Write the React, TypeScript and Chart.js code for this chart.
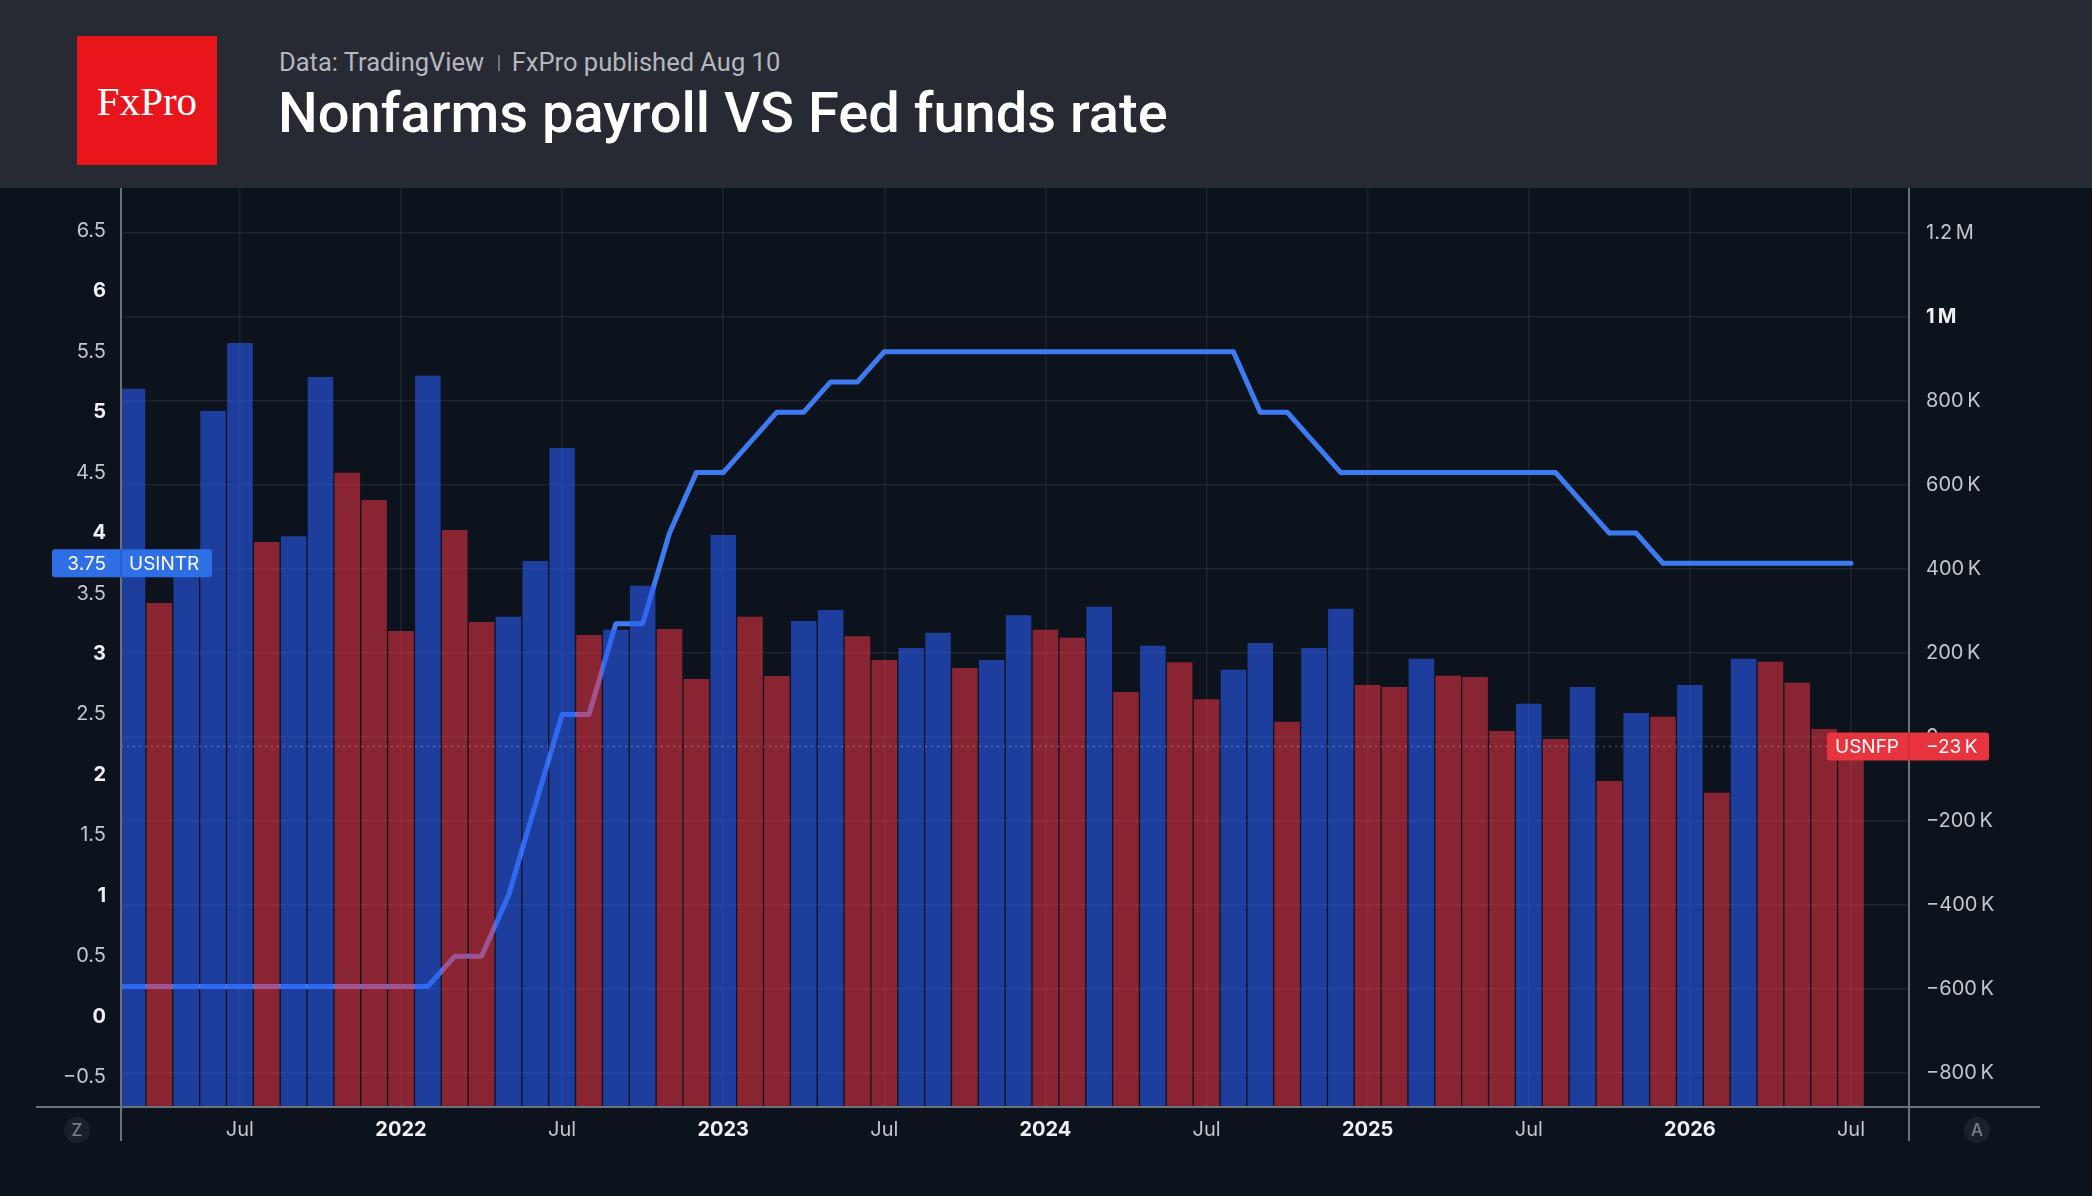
import { useEffect, useRef } from 'react';
import { Chart, registerables } from 'chart.js';

Chart.register(...registerables);

// monthly series, Feb 2021 (off the left edge) .. Jul 2026
const MONTHS = [
  '2021-02', '2021-03', '2021-04', '2021-05', '2021-06', '2021-07', '2021-08', '2021-09', '2021-10', '2021-11', '2021-12',
  '2022-01', '2022-02', '2022-03', '2022-04', '2022-05', '2022-06', '2022-07', '2022-08', '2022-09', '2022-10', '2022-11', '2022-12',
  '2023-01', '2023-02', '2023-03', '2023-04', '2023-05', '2023-06', '2023-07', '2023-08', '2023-09', '2023-10', '2023-11', '2023-12',
  '2024-01', '2024-02', '2024-03', '2024-04', '2024-05', '2024-06', '2024-07', '2024-08', '2024-09', '2024-10', '2024-11', '2024-12',
  '2025-01', '2025-02', '2025-03', '2025-04', '2025-05', '2025-06', '2025-07', '2025-08', '2025-09', '2025-10', '2025-11', '2025-12',
  '2026-01', '2026-02', '2026-03', '2026-04', '2026-05', '2026-06', '2026-07',
];

// nonfarm payrolls, thousands
const PAYROLL_K = [
  null, 829, 319, 415, 776, 938, 464, 478, 857, 629, 564,
  252, 860, 493, 274, 286, 419, 688, 243, 255, 360, 257, 138,
  481, 286, 145, 276, 302, 240, 183, 212, 248, 164, 183, 290,
  255, 236, 310, 107, 217, 178, 90, 160, 224, 36, 212, 305,
  124, 119, 186, 146, 143, 14, 79, -5, 119, -105, 57, 48,
  124, -133, 186, 179, 129, 19, -23,
];

// fed funds rate (upper bound), %
const FED_RATE = [
  0.25, 0.25, 0.25, 0.25, 0.25, 0.25, 0.25, 0.25, 0.25, 0.25, 0.25,
  0.25, 0.25, 0.5, 0.5, 1.0, 1.75, 2.5, 2.5, 3.25, 3.25, 4.0, 4.5,
  4.5, 4.75, 5.0, 5.0, 5.25, 5.25, 5.5, 5.5, 5.5, 5.5, 5.5, 5.5,
  5.5, 5.5, 5.5, 5.5, 5.5, 5.5, 5.5, 5.5, 5.0, 5.0, 4.75, 4.5,
  4.5, 4.5, 4.5, 4.5, 4.5, 4.5, 4.5, 4.5, 4.25, 4.0, 4.0, 3.75,
  3.75, 3.75, 3.75, 3.75, 3.75, 3.75, 3.75,
];

const RATE_TICKS = [6.5, 6, 5.5, 5, 4.5, 4, 3.5, 3, 2.5, 2, 1.5, 1, 0.5, 0, -0.5];
const PAYROLL_TICKS = [1200, 1000, 800, 600, 400, 200, 0, -200, -400, -600, -800];
const PAYROLL_TICK_TEXT = ['1.2\u2009M', '1\u2009M', '800\u2009K', '600\u2009K', '400\u2009K', '200\u2009K', '0', '\u2212200\u2009K', '\u2212400\u2009K', '\u2212600\u2009K', '\u2212800\u2009K'];
const X_TICKS = ['2021-07', '2022-01', '2022-07', '2023-01', '2023-07', '2024-01', '2024-07', '2025-01', '2025-07', '2026-01', '2026-07'];
const X_TICK_TEXT = ['Jul', '2022', 'Jul', '2023', 'Jul', '2024', 'Jul', '2025', 'Jul', '2026', 'Jul'];

const BG = '#0d131d';
const GRID = 'rgba(255,255,255,0.07)';
const AXIS = '#6c717a';
const DIM = '#c3c6cc';
const BRIGHT = '#eef0f3';
const BLUE_BAR = 'rgba(42,91,243,0.6)';
const RED_BAR = 'rgba(240,51,70,0.55)';
const LINE = '#3d7cf0';
const FONT = 'Inter, "DejaVu Sans", sans-serif';

const tickFont = (bold: boolean) => ({ family: FONT, size: 20, weight: bold ? '700' : '400' });
const fmtRate = (v: number) => String(v).replace('-', '\u2212');

function roundRect(ctx: CanvasRenderingContext2D, x: number, y: number, w: number, h: number, r: number) {
  ctx.beginPath();
  ctx.moveTo(x + r, y);
  ctx.arcTo(x + w, y, x + w, y + h, r);
  ctx.arcTo(x + w, y + h, x, y + h, r);
  ctx.arcTo(x, y + h, x, y, r);
  ctx.arcTo(x, y, x + w, y, r);
  ctx.closePath();
}

const overlay = {
  id: 'overlay',
  afterDatasetsDraw(chart: any) {
    const { ctx, chartArea: a, scales } = chart;
    const y = scales.y2.getPixelForValue(PAYROLL_K[PAYROLL_K.length - 1]);
    ctx.save();
    ctx.setLineDash([2, 4]);
    ctx.strokeStyle = 'rgba(175,185,205,0.35)';
    ctx.lineWidth = 1.5;
    ctx.beginPath();
    ctx.moveTo(a.left, y);
    ctx.lineTo(a.right, y);
    ctx.stroke();
    ctx.restore();
  },
  afterDraw(chart: any) {
    const { ctx, chartArea: a, scales } = chart;
    ctx.save();
    // axis lines
    ctx.strokeStyle = AXIS;
    ctx.lineWidth = 2;
    ctx.beginPath();
    ctx.moveTo(a.left, a.top);
    ctx.lineTo(a.left, a.bottom + 34);
    ctx.moveTo(a.right, a.top);
    ctx.lineTo(a.right, a.bottom + 34);
    ctx.moveTo(a.left - 85, a.bottom);
    ctx.lineTo(a.right + 131, a.bottom);
    ctx.stroke();

    ctx.font = `400 19px ${FONT}`;
    ctx.textBaseline = 'middle';

    // USINTR tag
    const lastRate = FED_RATE[FED_RATE.length - 1];
    const yr = scales.y.getPixelForValue(lastRate);
    ctx.fillStyle = '#2f6fe6';
    roundRect(ctx, a.left - 69, yr - 14, 160, 28, 3);
    ctx.fill();
    ctx.fillStyle = 'rgba(0,0,0,0.12)';
    ctx.fillRect(a.left - 1, yr - 14, 2, 28);
    ctx.fillStyle = '#ffffff';
    ctx.textAlign = 'right';
    ctx.fillText(lastRate.toFixed(2), a.left - 15, yr + 1);
    ctx.textAlign = 'left';
    ctx.fillText('USINTR', a.left + 8, yr + 1);

    // USNFP tag
    const lastPay = PAYROLL_K[PAYROLL_K.length - 1] as number;
    const yp = scales.y2.getPixelForValue(lastPay);
    ctx.fillStyle = '#e8343f';
    roundRect(ctx, a.right - 82, yp - 14, 162, 28, 3);
    ctx.fill();
    ctx.fillStyle = 'rgba(0,0,0,0.1)';
    ctx.fillRect(a.right - 1, yp - 14, 2, 28);
    ctx.fillStyle = '#ffffff';
    ctx.textAlign = 'left';
    ctx.fillText('USNFP', a.right - 74, yp + 1);
    ctx.fillText(`${lastPay < 0 ? '\u2212' : ''}${Math.abs(lastPay)}\u2009K`, a.right + 17, yp + 1);

    // corner buttons
    const cy = a.bottom + 23;
    for (const [cx, t] of [[a.left - 44, 'Z'], [a.right + 68, 'A']] as [number, string][]) {
      ctx.fillStyle = '#1b212b';
      ctx.beginPath();
      ctx.arc(cx, cy, 13, 0, Math.PI * 2);
      ctx.fill();
      ctx.fillStyle = '#7b808a';
      ctx.textAlign = 'center';
      ctx.font = `500 17px ${FONT}`;
      ctx.fillText(t, cx, cy + 1);
    }
    ctx.restore();
  },
};

export default function App() {
  const ref = useRef<HTMLCanvasElement>(null);
  const chartRef = useRef<Chart | null>(null);

  useEffect(() => {
    if (!ref.current) return;
    const payMin = -881;
    const barColors = PAYROLL_K.map((v, i) => {
      const prev = i > 0 ? PAYROLL_K[i - 1] : null;
      return prev === null || (v as number) > prev ? BLUE_BAR : RED_BAR;
    });

    chartRef.current?.destroy();
    chartRef.current = new Chart(ref.current, {
      type: 'bar',
      data: {
        datasets: [
          {
            type: 'bar',
            label: 'USNFP',
            data: MONTHS.map((_, i) => ({ x: i, y: PAYROLL_K[i] })),
            yAxisID: 'y2',
            base: payMin,
            backgroundColor: barColors,
            borderWidth: 0,
            barPercentage: 0.95,
            categoryPercentage: 1,
            order: 0,
          },
          {
            type: 'line',
            label: 'USINTR',
            data: MONTHS.map((_, i) => ({ x: i, y: FED_RATE[i] })),
            yAxisID: 'y',
            borderColor: LINE,
            borderWidth: 5,
            pointRadius: 0,
            tension: 0,
            borderCapStyle: 'round',
            borderJoinStyle: 'round',
            order: 1,
          },
        ],
      } as any,
      options: {
        responsive: false,
        animation: false,
        layout: { padding: { top: 188, left: 0, right: 0, bottom: 0 } },
        plugins: { legend: { display: false }, tooltip: { enabled: false } },
        scales: {
          x: {
            type: 'linear',
            min: 0.572,
            max: 67.16,
            offset: false,
            afterBuildTicks: (s: any) => { s.ticks = X_TICKS.map((m) => ({ value: MONTHS.indexOf(m) })); },
            afterFit: (s: any) => { s.height = 89; },
            grid: { color: GRID, lineWidth: 1.5, drawTicks: false, offset: false },
            border: { display: false },
            ticks: {
              autoSkip: false,
              maxRotation: 0,
              padding: 11,
              callback: (_v: any, i: number) => X_TICK_TEXT[i],
              color: (c: any) => (X_TICK_TEXT[c.index] === 'Jul' ? DIM : BRIGHT),
              font: (c: any) => tickFont(X_TICK_TEXT[c.index] !== 'Jul'),
            },
          },
          y: {
            position: 'left',
            min: -0.747,
            max: 6.854,
            afterBuildTicks: (s: any) => { s.ticks = RATE_TICKS.map((value) => ({ value })); },
            afterFit: (s: any) => { s.width = 121; },
            grid: { display: false, drawTicks: false },
            border: { display: false },
            ticks: {
              padding: 15,
              callback: (v: any) => fmtRate(v),
              color: (c: any) => (Number.isInteger(c.tick?.value) ? BRIGHT : DIM),
              font: (c: any) => tickFont(Number.isInteger(c.tick?.value)),
            },
          },
          y2: {
            position: 'right',
            min: payMin,
            max: 1307,
            afterBuildTicks: (s: any) => { s.ticks = PAYROLL_TICKS.map((value) => ({ value })); },
            afterFit: (s: any) => { s.width = 183; },
            grid: { color: GRID, lineWidth: 1.5, drawTicks: false },
            border: { display: false },
            ticks: {
              padding: 17,
              callback: (_v: any, i: number) => PAYROLL_TICK_TEXT[i],
              color: (c: any) => (c.tick?.value === 1000 ? BRIGHT : DIM),
              font: (c: any) => tickFont(c.tick?.value === 1000),
            },
          },
        },
      } as any,
      plugins: [overlay],
    });
    return () => { chartRef.current?.destroy(); };
  }, []);

  return (
    <div style={{ position: 'fixed', left: 0, top: 0, width: 2092, height: 1196, background: BG, overflow: 'hidden' }}>
      <canvas ref={ref} width={2092} height={1196} style={{ position: 'absolute', left: 0, top: 0, width: 2092, height: 1196 }} />
      <div style={{ position: 'absolute', left: 0, top: 0, width: 2092, height: 188, background: '#272a33' }}>
        <div
          style={{
            position: 'absolute', left: 77, top: 36, width: 140, height: 129, background: '#e8151c',
            display: 'flex', alignItems: 'center', justifyContent: 'center',
            color: '#ffffff', fontFamily: '"Liberation Serif", "DejaVu Serif", serif', fontSize: 41,
          }}
        >
          FxPro
        </div>
        <div
          style={{
            position: 'absolute', left: 279, top: 50, fontFamily: 'Roboto, sans-serif', fontSize: 25.5, lineHeight: '25.5px',
            color: '#b4b7bf', whiteSpace: 'nowrap', display: 'flex', alignItems: 'center',
          }}
        >
          <span>Data: TradingView</span>
          <span style={{ display: 'inline-block', width: 1.5, height: 16, background: '#6d717a', margin: '0 12px 0 14px' }} />
          <span>FxPro published Aug 10</span>
        </div>
        <div
          style={{
            position: 'absolute', left: 278, top: 85, fontFamily: 'Roboto, sans-serif', fontSize: 56, lineHeight: '56px',
            fontWeight: 500, color: '#ffffff', whiteSpace: 'nowrap',
          }}
        >
          Nonfarms payroll VS Fed funds rate
        </div>
      </div>
    </div>
  );
}
